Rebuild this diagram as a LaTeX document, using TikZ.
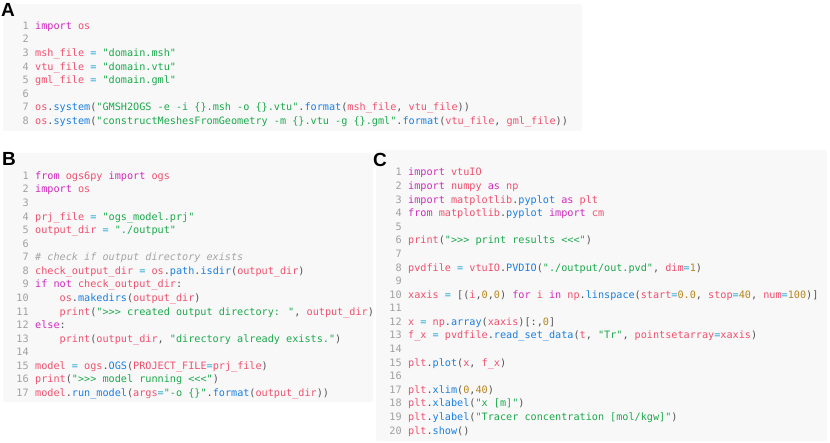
\documentclass[tikz,border=0pt]{standalone}
\usepackage{fontspec}
\usetikzlibrary{positioning}
\newfontfamily\codefont{DejaVu Sans Mono}
\newfontfamily\labfont{Liberation Sans}
\definecolor{codebg}{RGB}{248,248,248}
\definecolor{lnumgray}{RGB}{160,160,160}
\definecolor{kwcol}{HTML}{D12BBE}
\definecolor{idcol}{HTML}{F0506E}
\definecolor{strcol}{HTML}{1BA94C}
\definecolor{fncol}{HTML}{1A7FE0}
\definecolor{opcol}{HTML}{22A7D8}
\definecolor{pucol}{HTML}{555555}
\definecolor{numcol}{HTML}{B8861B}
\definecolor{comcol}{RGB}{165,165,165}
\newcommand\ckw[1]{\textcolor{kwcol}{#1}}
\newcommand\cid[1]{\textcolor{idcol}{#1}}
\newcommand\cstr[1]{\textcolor{strcol}{#1}}
\newcommand\cfn[1]{\textcolor{fncol}{#1}}
\newcommand\cop[1]{\textcolor{opcol}{#1}}
\newcommand\cnum[1]{\textcolor{numcol}{#1}}
\newcommand\ccom[1]{\textcolor{comcol}{\itshape #1}}
\begin{document}
\begin{tikzpicture}[x=1pt, y=-1pt,
        panel/.style = {fill=codebg, draw=none, rounded corners=2pt},
        panellabel/.style = {anchor=base west, inner sep=0pt,
                font=\labfont\bfseries\fontsize{19}{19}\selectfont},
        code/.style = {anchor=base west, inner sep=0pt, text=pucol,
                font=\codefont\fontsize{10.17}{13.58}\selectfont},
        lnum/.style = {anchor=base east, inner sep=0pt, text=lnumgray,
                font=\codefont\fontsize{10.17}{13.58}\selectfont},
        rows/.style = {x=6.12pt, y=-13.58pt},
    ]
    \useasboundingbox (0,0) rectangle (830,443);

    \fill[panel] (3,4) rectangle (582,131);
    \fill[panel] (3,153) rectangle (373,402);
    \fill[panel] (376,150) rectangle (827,441);

    \node[panellabel] (labA) at (1,17) {A};
    \node[panellabel] (labB) at (2,165.5) {B};
    \node[panellabel] (labC) at (373,167) {C};

    % panel A
    \begin{scope}[shift={(35pt,-29.3pt)}, rows]
        \foreach \i in {1,...,8}
            {
                \node[lnum] (a-n\i) at (-1,\i-1) {\i};
            }
        \node[code] (a1) at (0,0) {\ckw{import} \cid{os}};
        \node[code] (a3) at (0,2) {\cid{msh\_file} \cop{=} \cstr{"domain.msh"}};
        \node[code] (a4) at (0,3) {\cid{vtu\_file} \cop{=} \cstr{"domain.vtu"}};
        \node[code] (a5) at (0,4) {\cid{gml\_file} \cop{=} \cstr{"domain.gml"}};
        \node[code] (a7) at (0,6) {\cid{os}.\cfn{system}(\cstr{"GMSH2OGS -e -i \{\}.msh -o \{\}.vtu"}.\cfn{format}(\cid{msh\_file}, \cid{vtu\_file}))};
        \node[code] (a8) at (0,7) {\cid{os}.\cfn{system}(\cstr{"constructMeshesFromGeometry -m \{\}.vtu -g \{\}.gml"}.\cfn{format}(\cid{vtu\_file}, \cid{gml\_file}))};
    \end{scope}

    % panel B
    \begin{scope}[shift={(35pt,-179.3pt)}, rows]
        \foreach \i in {1,...,17}
            {
                \node[lnum] (b-n\i) at (-1,\i-1) {\i};
            }
        \node[code] (b1) at (0,0) {\ckw{from} \cid{ogs6py} \ckw{import} \cid{ogs}};
        \node[code] (b2) at (0,1) {\ckw{import} \cid{os}};
        \node[code] (b4) at (0,3) {\cid{prj\_file} \cop{=} \cstr{"ogs\_model.prj"}};
        \node[code] (b5) at (0,4) {\cid{output\_dir} \cop{=} \cstr{"./output"}};
        \node[code] (b7) at (0,6) {\ccom{\# check if output directory exists}};
        \node[code] (b8) at (0,7) {\cid{check\_output\_dir} \cop{=} \cid{os}.\cfn{path}.\cfn{isdir}(\cid{output\_dir})};
        \node[code] (b9) at (0,8) {\ckw{if} \ckw{not} \cid{check\_output\_dir}:};
        \node[code] (b10) at (4,9) {\cid{os}.\cfn{makedirs}(\cid{output\_dir})};
        \node[code] (b11) at (4,10) {\cid{print}(\cstr{">>> created output directory: "}, \cid{output\_dir})};
        \node[code] (b12) at (0,11) {\ckw{else}:};
        \node[code] (b13) at (4,12) {\cid{print}(\cid{output\_dir}, \cstr{"directory already exists."})};
        \node[code] (b15) at (0,14) {\cid{model} \cop{=} \cid{ogs}.\cfn{OGS}(\cid{PROJECT\_FILE}\cop{=}\cid{prj\_file})};
        \node[code] (b16) at (0,15) {\cid{print}(\cstr{">>> model running <<<"})};
        \node[code] (b17) at (0,16) {\cid{model}.\cfn{run\_model}(\cid{args}\cop{=}\cstr{"-o \{\}"}.\cfn{format}(\cid{output\_dir}))};
    \end{scope}

    % panel C
    \begin{scope}[shift={(408pt,-176pt)}, rows]
        \foreach \i in {1,...,20}
            {
                \node[lnum] (c-n\i) at (-1,\i-1) {\i};
            }
        \node[code] (c1) at (0,0) {\ckw{import} \cid{vtuIO}};
        \node[code] (c2) at (0,1) {\ckw{import} \cid{numpy} \ckw{as} \cid{np}};
        \node[code] (c3) at (0,2) {\ckw{import} \cid{matplotlib}.\cfn{pyplot} \ckw{as} \cid{plt}};
        \node[code] (c4) at (0,3) {\ckw{from} \cid{matplotlib}.\cfn{pyplot} \ckw{import} \cid{cm}};
        \node[code] (c6) at (0,5) {\cid{print}(\cstr{">>> print results <<<"})};
        \node[code] (c8) at (0,7) {\cid{pvdfile} \cop{=} \cid{vtuIO}.\cfn{PVDIO}(\cstr{"./output/out.pvd"}, \cid{dim}\cop{=}\cnum{1})};
        \node[code] (c10) at (0,9) {\cid{xaxis} \cop{=} [(\cid{i},\cnum{0},\cnum{0}) \ckw{for} \cid{i} \ckw{in} \cid{np}.\cfn{linspace}(\cid{start}\cop{=}\cnum{0.0}, \cid{stop}\cop{=}\cnum{40}, \cid{num}\cop{=}\cnum{100})]};
        \node[code] (c12) at (0,11) {\cid{x} \cop{=} \cid{np}.\cfn{array}(\cid{xaxis})[:,\cnum{0}]};
        \node[code] (c13) at (0,12) {\cid{f\_x} \cop{=} \cid{pvdfile}.\cfn{read\_set\_data}(\cid{t}, \cstr{"Tr"}, \cid{pointsetarray}\cop{=}\cid{xaxis})};
        \node[code] (c15) at (0,14) {\cid{plt}.\cfn{plot}(\cid{x}, \cid{f\_x})};
        \node[code] (c17) at (0,16) {\cid{plt}.\cfn{xlim}(\cnum{0},\cnum{40})};
        \node[code] (c18) at (0,17) {\cid{plt}.\cfn{xlabel}(\cstr{"x [m]"})};
        \node[code] (c19) at (0,18) {\cid{plt}.\cfn{ylabel}(\cstr{"Tracer concentration [mol/kgw]"})};
        \node[code] (c20) at (0,19) {\cid{plt}.\cfn{show}()};
    \end{scope}
\end{tikzpicture}
\end{document}
